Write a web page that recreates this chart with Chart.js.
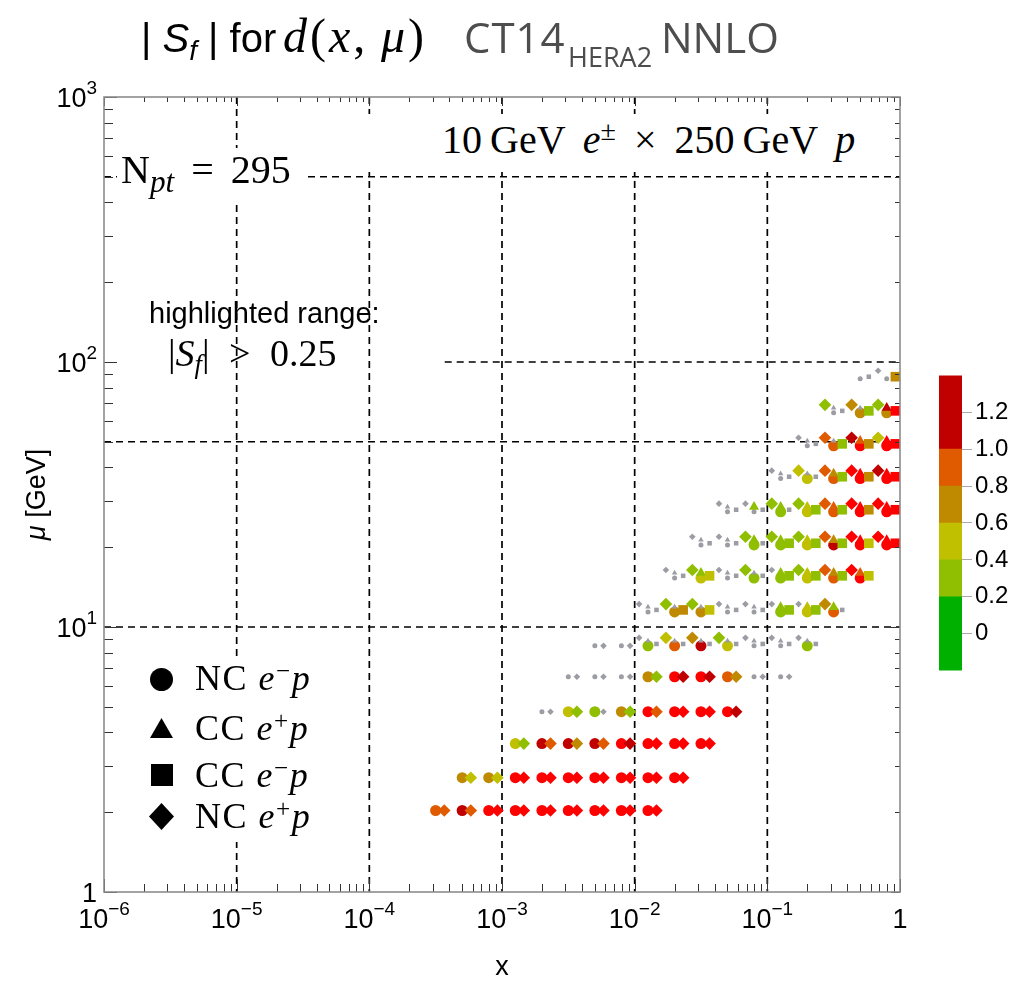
<!DOCTYPE html>
<html>
<head>
<meta charset="utf-8">
<title>|Sf| for d(x, mu) CT14 HERA2 NNLO</title>
<script src="https://cdn.jsdelivr.net/npm/chart.js@4.4.1/dist/chart.umd.min.js"></script>
<style>
  html, body { margin: 0; padding: 0; background: #fff; }
  #wrap { position: relative; width: 1023px; height: 986px; overflow: hidden; }
  #plot { position: absolute; left: 0; top: 0; }
  #cbar { position: absolute; left: 935px; top: 358px; }
  .txt { position: absolute; white-space: nowrap; color: #000; line-height: 1; }
  .serif { font-family: 'Liberation Serif', 'Times New Roman', serif; }
  .sans { font-family: 'Liberation Sans', Arial, sans-serif; }
  .open { font-family: 'Open Sans', 'Noto Sans', sans-serif; color: #4d4d4d; }
  .sup { position: relative; top: -0.45em; font-size: 0.7em; line-height: 0; }
  .sub { position: relative; top: 0.28em; font-size: 0.7em; line-height: 0; }
  .box { position: absolute; background: #fff; }
  .mk { position: absolute; background: #000; }
</style>
</head>
<body>
<div id="wrap">
  <canvas id="plot" width="1023" height="986"></canvas>
  <canvas id="cbar" width="88" height="330"></canvas>

  <!-- title -->
  <div class="txt sans" style="left:141px; top:18px; font-size:40px;">| <i>S</i><span class="sub"><i>f</i></span> | for</div>
  <div class="txt serif" style="left:283px; top:12px; font-size:48px; letter-spacing:3px;"><i>d</i>(<i>x</i>,&#8201;<i>μ</i>)</div>
  <div class="txt open" style="left:464px; top:16px; font-size:42px; letter-spacing:1px;">CT14</div>
  <div class="txt open" style="left:568px; top:43px; font-size:27px;">HERA2</div>
  <div class="txt open" style="left:661px; top:16px; font-size:42px;">NNLO</div>

  <!-- annotations inside the frame -->
  <div class="box" style="left:345px; top:114px; width:540px; height:58px;"></div>
  <div class="txt serif" style="left:442px; top:120px; font-size:40px; word-spacing:8px;">10&#8201;GeV <i>e</i><span class="sup">±</span> × 250&#8201;GeV <i>p</i></div>

  <div class="box" style="left:117px; top:148px; width:189px; height:52px;"></div>
  <div class="txt serif" style="left:121px; top:150px; font-size:40px; word-spacing:7px;">N<span class="sub" style="font-size:0.78em;"><i>pt</i></span> = 295</div>

  <div class="txt sans" style="left:149px; top:299px; font-size:29px;">highlighted range:</div>
  <div class="txt serif" style="left:168px; top:334px; font-size:38px; word-spacing:10px;">|<i>S</i><span class="sub"><i>f</i></span>| &gt; 0.25</div>

  <!-- marker legend -->
  <div class="box" style="left:140px; top:660px; width:185px; height:182px;"></div>
  <div class="mk" style="left:150px; top:668px; width:23px; height:23px; border-radius:50%;"></div>
  <div class="mk" style="left:150px; top:718px; width:23px; height:20px; clip-path:polygon(50% 0, 100% 100%, 0 100%);"></div>
  <div class="mk" style="left:151px; top:764px; width:22px; height:22px;"></div>
  <div class="mk" style="left:149px; top:803px; width:25px; height:27px; clip-path:polygon(50% 0, 100% 50%, 50% 100%, 0 50%);"></div>
  <div class="txt serif" style="left:195px; top:660px; font-size:36px; letter-spacing:1.5px;">NC <i>e</i><span class="sup">−</span><i>p</i></div>
  <div class="txt serif" style="left:195px; top:710px; font-size:36px; letter-spacing:1.5px;">CC <i>e</i><span class="sup">+</span><i>p</i></div>
  <div class="txt serif" style="left:195px; top:757px; font-size:36px; letter-spacing:1.5px;">CC <i>e</i><span class="sup">−</span><i>p</i></div>
  <div class="txt serif" style="left:195px; top:798px; font-size:36px; letter-spacing:1.5px;">NC <i>e</i><span class="sup">+</span><i>p</i></div>
</div>

<script>
const FONT_SANS = "'Liberation Sans', Arial, sans-serif";

// each point: [x, mu (GeV), |S_f|]
// NC e-p (circles)
const ncEmP = [
  [0.501, 86.5, 0.1], [0.794, 86.5, 0.1],
  [0.316, 64.3, 0.1], [0.501, 64.3, 0.7], [0.794, 64.3, 0.7],
  [0.200, 48.3, 0.1], [0.316, 48.3, 0.9], [0.501, 48.3, 1.6], [0.794, 48.3, 1.6],
  [0.126, 36.3, 0.1], [0.200, 36.3, 0.5], [0.316, 36.3, 0.9], [0.501, 36.3, 1.6], [0.794, 36.3, 1.6],
  [0.0501, 27.2, 0.1], [0.0794, 27.2, 0.1], [0.126, 27.2, 0.3], [0.200, 27.2, 0.5], [0.316, 27.2, 0.9], [0.501, 27.2, 1.6], [0.794, 27.2, 1.6],
  [0.0316, 20.4, 0.1], [0.0501, 20.4, 0.1], [0.0794, 20.4, 0.3], [0.126, 20.4, 0.3], [0.200, 20.4, 0.5], [0.316, 20.4, 1.2], [0.501, 20.4, 1.6], [0.794, 20.4, 1.6],
  [0.0200, 15.3, 0.1], [0.0316, 15.3, 0.5], [0.0501, 15.3, 0.1], [0.0794, 15.3, 0.3], [0.126, 15.3, 0.3], [0.200, 15.3, 0.5], [0.316, 15.3, 0.9], [0.501, 15.3, 1.6],
  [0.0126, 11.4, 0.1], [0.0200, 11.4, 0.7], [0.0316, 11.4, 0.7], [0.0501, 11.4, 0.1], [0.0794, 11.4, 0.1], [0.126, 11.4, 0.3], [0.200, 11.4, 0.5], [0.316, 11.4, 0.9],
  [0.00501, 8.49, 0.1], [0.00794, 8.49, 0.1], [0.0126, 8.49, 0.3], [0.0200, 8.49, 0.9], [0.0316, 8.49, 1.2], [0.0501, 8.49, 0.5], [0.0794, 8.49, 0.1], [0.126, 8.49, 0.1], [0.200, 8.49, 0.3],
  [0.00316, 6.49, 0.1], [0.00501, 6.49, 0.1], [0.00794, 6.49, 0.1], [0.0126, 6.49, 0.7], [0.0200, 6.49, 1.6], [0.0316, 6.49, 1.6], [0.0501, 6.49, 0.9], [0.0794, 6.49, 0.1], [0.126, 6.49, 0.1],
  [0.00200, 4.79, 0.1], [0.00316, 4.79, 0.5], [0.00501, 4.79, 0.3], [0.00794, 4.79, 0.7], [0.0126, 4.79, 1.6], [0.0200, 4.79, 1.6], [0.0316, 4.79, 1.6], [0.0501, 4.79, 1.6],
  [0.00126, 3.63, 0.5], [0.00200, 3.63, 1.2], [0.00316, 3.63, 1.2], [0.00501, 3.63, 1.2], [0.00794, 3.63, 1.6], [0.0126, 3.63, 1.6], [0.0200, 3.63, 1.6], [0.0316, 3.63, 1.6],
  [0.000501, 2.70, 0.7], [0.000794, 2.70, 0.7], [0.00126, 2.70, 1.6], [0.00200, 2.70, 1.6], [0.00316, 2.70, 1.6], [0.00501, 2.70, 1.6], [0.00794, 2.70, 1.6], [0.0126, 2.70, 1.6], [0.0200, 2.70, 1.6],
  [0.000316, 2.03, 0.9], [0.000501, 2.03, 1.2], [0.000794, 2.03, 1.6], [0.00126, 2.03, 1.6], [0.00200, 2.03, 1.6], [0.00316, 2.03, 1.6], [0.00501, 2.03, 1.6], [0.00794, 2.03, 1.6], [0.0126, 2.03, 1.6]
];

// CC e+p (triangles)
const ccEpP = [
  [0.316, 67.1, 0.1], [0.501, 67.1, 0.1], [0.794, 67.1, 1.2],
  [0.200, 50.4, 0.1], [0.316, 50.4, 0.1], [0.501, 50.4, 0.9], [0.794, 50.4, 1.6],
  [0.126, 37.9, 0.1], [0.200, 37.9, 0.1], [0.316, 37.9, 0.7], [0.501, 37.9, 1.6], [0.794, 37.9, 1.6],
  [0.0501, 28.4, 0.1], [0.0794, 28.4, 0.3], [0.126, 28.4, 0.3], [0.200, 28.4, 0.5], [0.316, 28.4, 0.9], [0.501, 28.4, 1.6], [0.794, 28.4, 1.6],
  [0.0316, 21.3, 0.1], [0.0501, 21.3, 0.1], [0.0794, 21.3, 0.3], [0.126, 21.3, 0.3], [0.200, 21.3, 0.5], [0.316, 21.3, 0.7], [0.501, 21.3, 1.6], [0.794, 21.3, 1.6],
  [0.0200, 16.0, 0.1], [0.0316, 16.0, 0.3], [0.0501, 16.0, 0.1], [0.0794, 16.0, 0.1], [0.126, 16.0, 0.3], [0.200, 16.0, 0.5], [0.316, 16.0, 0.7], [0.501, 16.0, 0.9],
  [0.0126, 11.9, 0.1], [0.0200, 11.9, 0.1], [0.0316, 11.9, 0.1], [0.0501, 11.9, 0.1], [0.0794, 11.9, 0.1], [0.126, 11.9, 0.3], [0.200, 11.9, 0.5], [0.316, 11.9, 0.3],
  [0.0126, 8.86, 0.1], [0.0200, 8.86, 0.1], [0.0316, 8.86, 0.1], [0.0501, 8.86, 0.1], [0.0794, 8.86, 0.1], [0.126, 8.86, 0.1], [0.200, 8.86, 0.1]
];

// CC e-p (squares)
const ccEmP = [
  [0.582, 88.0, 0.1], [0.923, 88.0, 0.7],
  [0.367, 65.4, 0.1], [0.582, 65.4, 0.3], [0.923, 65.4, 1.6],
  [0.232, 49.1, 0.1], [0.367, 49.1, 0.3], [0.582, 49.1, 0.7], [0.923, 49.1, 1.6],
  [0.146, 36.9, 0.1], [0.232, 36.9, 0.1], [0.367, 36.9, 0.3], [0.582, 36.9, 0.7], [0.923, 36.9, 1.6],
  [0.0582, 27.7, 0.1], [0.0923, 27.7, 0.1], [0.146, 27.7, 0.1], [0.232, 27.7, 0.3], [0.367, 27.7, 0.3], [0.582, 27.7, 0.7], [0.923, 27.7, 1.6],
  [0.0367, 20.7, 0.1], [0.0582, 20.7, 0.1], [0.0923, 20.7, 0.1], [0.146, 20.7, 0.3], [0.232, 20.7, 0.3], [0.367, 20.7, 0.3], [0.582, 20.7, 0.5], [0.923, 20.7, 1.6],
  [0.0232, 15.6, 0.1], [0.0367, 15.6, 0.5], [0.0582, 15.6, 0.1], [0.0923, 15.6, 0.1], [0.146, 15.6, 0.3], [0.232, 15.6, 0.3], [0.367, 15.6, 0.3], [0.582, 15.6, 0.5],
  [0.0146, 11.6, 0.1], [0.0232, 11.6, 0.7], [0.0367, 11.6, 0.5], [0.0582, 11.6, 0.1], [0.0923, 11.6, 0.1], [0.146, 11.6, 0.3], [0.232, 11.6, 0.3], [0.367, 11.6, 0.1],
  [0.0146, 8.63, 0.1], [0.0232, 8.63, 0.1], [0.0367, 8.63, 0.1], [0.0582, 8.63, 0.1], [0.0923, 8.63, 0.1], [0.146, 8.63, 0.1], [0.232, 8.63, 0.1]
];

// NC e+p (diamonds)
const ncEpP = [
  [0.684, 92.7, 0.1],
  [0.272, 68.9, 0.3], [0.432, 68.9, 0.7], [0.684, 68.9, 0.3],
  [0.172, 51.8, 0.1], [0.272, 51.8, 0.9], [0.432, 51.8, 1.2], [0.684, 51.8, 0.5],
  [0.108, 38.9, 0.1], [0.172, 38.9, 0.5], [0.272, 38.9, 0.9], [0.432, 38.9, 1.6], [0.684, 38.9, 1.2],
  [0.0432, 29.2, 0.1], [0.0684, 29.2, 0.1], [0.108, 29.2, 0.3], [0.172, 29.2, 0.3], [0.272, 29.2, 0.9], [0.432, 29.2, 1.6], [0.684, 29.2, 1.6],
  [0.0272, 21.9, 0.1], [0.0432, 21.9, 0.1], [0.0684, 21.9, 0.3], [0.108, 21.9, 0.3], [0.172, 21.9, 0.3], [0.272, 21.9, 0.9], [0.432, 21.9, 1.6], [0.684, 21.9, 1.6],
  [0.0172, 16.4, 0.1], [0.0272, 16.4, 0.3], [0.0432, 16.4, 0.1], [0.0684, 16.4, 0.3], [0.108, 16.4, 0.1], [0.172, 16.4, 0.3], [0.272, 16.4, 0.9], [0.432, 16.4, 1.6],
  [0.0108, 12.2, 0.1], [0.0172, 12.2, 0.3], [0.0272, 12.2, 0.3], [0.0432, 12.2, 0.1], [0.0684, 12.2, 0.1], [0.108, 12.2, 0.1], [0.172, 12.2, 0.1], [0.272, 12.2, 0.7],
  [0.00582, 8.49, 0.1], [0.00923, 8.49, 0.1], [0.0108, 9.10, 0.1], [0.0172, 9.10, 0.5], [0.0272, 9.10, 0.7], [0.0432, 9.10, 0.3], [0.0684, 9.10, 0.1], [0.108, 9.10, 0.1], [0.172, 9.10, 0.1],
  [0.00367, 6.49, 0.1], [0.00582, 6.49, 0.1], [0.00923, 6.49, 0.1], [0.0146, 6.49, 0.3], [0.0232, 6.49, 1.2], [0.0367, 6.49, 1.2], [0.0582, 6.49, 0.7], [0.0923, 6.49, 0.1], [0.146, 6.49, 0.1],
  [0.00232, 4.79, 0.1], [0.00367, 4.79, 0.3], [0.00582, 4.79, 0.1], [0.00923, 4.79, 0.3], [0.0146, 4.79, 0.9], [0.0232, 4.79, 1.6], [0.0367, 4.79, 1.6], [0.0582, 4.79, 1.2],
  [0.00146, 3.63, 0.3], [0.00232, 3.63, 0.9], [0.00367, 3.63, 0.7], [0.00582, 3.63, 0.9], [0.00923, 3.63, 1.2], [0.0146, 3.63, 1.6], [0.0232, 3.63, 1.6], [0.0367, 3.63, 1.6],
  [0.000582, 2.70, 0.5], [0.000923, 2.70, 0.5], [0.00146, 2.70, 1.6], [0.00232, 2.70, 1.6], [0.00367, 2.70, 1.6], [0.00582, 2.70, 1.6], [0.00923, 2.70, 1.6], [0.0146, 2.70, 1.6], [0.0232, 2.70, 1.6],
  [0.000367, 2.03, 0.9], [0.000582, 2.03, 0.9], [0.000923, 2.03, 1.6], [0.00146, 2.03, 1.6], [0.00232, 2.03, 1.6], [0.00367, 2.03, 1.6], [0.00582, 2.03, 1.6], [0.00923, 2.03, 1.6], [0.0146, 2.03, 1.6]
];

// axes
const xDecades = [1e-6, 1e-5, 1e-4, 1e-3, 1e-2, 1e-1, 1];
const xDecadeLabels = [['10', '−6'], ['10', '−5'], ['10', '−4'], ['10', '−3'], ['10', '−2'], ['10', '−1'], ['1', '']];
const yDecades = [1, 10, 100, 1000];
const yDecadeLabels = [['1', ''], ['10', '1'], ['10', '2'], ['10', '3']];

// dashed guide lines
const vGridX = [1e-5, 1e-4, 1e-3, 1e-2, 1e-1];
const hGridMu = [500, 100, 50, 10];
const hGridFromX = [1e-6, 3.7e-4, 1e-6, 1e-6];

// colour scale
const cbEdges = [-0.2, 0.2, 0.4, 0.6, 0.8, 1.0, 1.4];
const cbColors = ['#00b000', '#8fbf00', '#c0c000', '#c08a00', '#e05a00', '#c00000'];
const cbTicks = [0, 0.2, 0.4, 0.6, 0.8, 1.0, 1.2];
const S_CUT = 0.25;
const GRAY = '#9c9ca4';
const OVER = '#ff0000';

function sfColor(s) {
    if (s < S_CUT) return GRAY;
    for (let i = 0; i < cbColors.length; i++) {
        if (s < cbEdges[i + 1]) return cbColors[i];
    }
    return OVER;
}

function makeSet(label, pts, style, bigR, smallR, order) {
    return {
        label: label,
        order: order,
        data: pts.map(p => ({ x: p[0], y: p[1], s: p[2] })),
        pointStyle: style,
        pointRadius: c => (c.raw && c.raw.s < S_CUT) ? smallR : bigR,
        pointBackgroundColor: c => c.raw ? sfColor(c.raw.s) : GRAY,
        pointBorderWidth: 0,
        showLine: false,
        clip: 0
    };
}

// ===== frame, ticks, guide lines, labels =====
function line(ctx, x1, y1, x2, y2) {
    ctx.beginPath();
    ctx.moveTo(x1, y1);
    ctx.lineTo(x2, y2);
    ctx.stroke();
}

function drawPow(ctx, base, exp, x, y, align) {
    ctx.font = '27px ' + FONT_SANS;
    const wb = ctx.measureText(base).width;
    ctx.font = '19px ' + FONT_SANS;
    const we = exp ? ctx.measureText(exp).width : 0;
    const total = wb + we;
    let sx = align === 'right' ? x - total : x - total / 2;
    ctx.textAlign = 'left';
    ctx.textBaseline = 'alphabetic';
    ctx.font = '27px ' + FONT_SANS;
    ctx.fillText(base, sx, y);
    if (exp) {
        ctx.font = '19px ' + FONT_SANS;
        ctx.fillText(exp, sx + wb, y - 13);
    }
}

const framePlugin = {
    id: 'frame',
    beforeDatasetsDraw(chart) {
        const { ctx, chartArea: a, scales: { x, y } } = chart;
        ctx.save();
        ctx.strokeStyle = '#000';
        ctx.lineWidth = 1.7;
        ctx.setLineDash([7, 5]);
        vGridX.forEach(v => {
            const px = x.getPixelForValue(v);
            line(ctx, px, a.top, px, a.bottom);
        });
        hGridMu.forEach((m, i) => {
            const py = y.getPixelForValue(m);
            line(ctx, x.getPixelForValue(hGridFromX[i]), py, a.right, py);
        });
        ctx.restore();
    },
    afterDatasetsDraw(chart) {
        const { ctx, chartArea: a, scales: { x, y } } = chart;
        ctx.save();

        // ticks on all four sides, pointing inwards
        ctx.strokeStyle = '#333';
        ctx.lineWidth = 1;
        const xTicks = [];
        xDecades.forEach((d, i) => {
            xTicks.push([d, true]);
            if (i < xDecades.length - 1) for (let k = 2; k <= 9; k++) xTicks.push([k * d, false]);
        });
        xTicks.forEach(([v, major]) => {
            const px = Math.round(x.getPixelForValue(v)) + 0.5;
            line(ctx, px, a.bottom, px, a.bottom - (major ? 13 : 8));
            line(ctx, px, a.top, px, a.top + (major ? 9 : 5));
        });
        const yTicks = [];
        yDecades.forEach((d, i) => {
            yTicks.push([d, true]);
            if (i < yDecades.length - 1) for (let k = 2; k <= 9; k++) yTicks.push([k * d, false]);
        });
        yTicks.forEach(([v, major]) => {
            const py = Math.round(y.getPixelForValue(v)) + 0.5;
            line(ctx, a.left, py, a.left + (major ? 13 : 9), py);
            line(ctx, a.right, py, a.right - (major ? 9 : 5), py);
        });

        // frame
        ctx.strokeStyle = '#8c8c8c';
        ctx.lineWidth = 1.6;
        ctx.strokeRect(a.left, a.top, a.right - a.left, a.bottom - a.top);

        // tick labels
        ctx.fillStyle = '#000';
        xDecades.forEach((d, i) => {
            drawPow(ctx, xDecadeLabels[i][0], xDecadeLabels[i][1], x.getPixelForValue(d), a.bottom + 36, 'center');
        });
        yDecades.forEach((d, i) => {
            drawPow(ctx, yDecadeLabels[i][0], yDecadeLabels[i][1], a.left - 7, y.getPixelForValue(d) + 10, 'right');
        });

        // axis titles
        ctx.font = '27px ' + FONT_SANS;
        ctx.textAlign = 'center';
        ctx.fillText('x', (a.left + a.right) / 2, 975);

        ctx.translate(36, (a.top + a.bottom) / 2);
        ctx.rotate(-Math.PI / 2);
        ctx.font = 'italic 27px ' + FONT_SANS;
        const wMu = ctx.measureText('μ').width;
        ctx.font = '27px ' + FONT_SANS;
        const wRest = ctx.measureText(' [GeV]').width;
        const sx = -(wMu + wRest) / 2;
        ctx.textAlign = 'left';
        ctx.font = 'italic 27px ' + FONT_SANS;
        ctx.fillText('μ', sx, 9);
        ctx.font = '27px ' + FONT_SANS;
        ctx.fillText(' [GeV]', sx + wMu, 9);
        ctx.restore();
    }
};

new Chart(document.getElementById('plot'), {
    type: 'scatter',
    data: {
        datasets: [
            makeSet('NC e−p', ncEmP, 'circle', 5.5, 2.5, 4),
            makeSet('CC e+p', ccEpP, 'triangle', 5.8, 3.2, 3),
            makeSet('CC e−p', ccEmP, 'rect', 6.8, 3.2, 2),
            makeSet('NC e+p', ncEpP, 'rectRot', 6.3, 3.3, 1)
        ]
    },
    options: {
        responsive: false,
        animation: false,
        layout: { padding: { left: 104, right: 123, top: 97, bottom: 94 } },
        scales: {
            x: { type: 'logarithmic', min: 1e-6, max: 1, display: false },
            y: { type: 'logarithmic', min: 1, max: 1000, display: false }
        },
        plugins: {
            legend: { display: false },
            tooltip: { enabled: false }
        }
    },
    plugins: [framePlugin]
});

// ===== colour bar =====
new Chart(document.getElementById('cbar'), {
    type: 'bar',
    data: {
        labels: [''],
        datasets: cbColors.map((c, i) => ({
            label: String(cbEdges[i]),
            data: [[cbEdges[i], cbEdges[i + 1]]],
            backgroundColor: c,
            borderWidth: 0,
            grouped: false,
            barPercentage: 1,
            categoryPercentage: 1
        }))
    },
    options: {
        responsive: false,
        animation: false,
        layout: { padding: { left: 4, right: 0, top: 14.7, bottom: 15.3 } },
        scales: {
            x: { display: false },
            y: {
                position: 'right',
                min: cbEdges[0],
                max: cbEdges[cbEdges.length - 1],
                afterBuildTicks: s => { s.ticks = cbTicks.map(v => ({ value: v })); },
                afterFit: s => { s.width = 61; },
                ticks: {
                    callback: v => v === 0 ? '0' : v.toFixed(1),
                    font: { size: 24, family: FONT_SANS },
                    color: '#000',
                    padding: 3
                },
                grid: { drawOnChartArea: false, drawTicks: true, tickLength: 10, color: '#aaa' },
                border: { display: false }
            }
        },
        plugins: {
            legend: { display: false },
            tooltip: { enabled: false }
        }
    }
});
</script>
</body>
</html>
